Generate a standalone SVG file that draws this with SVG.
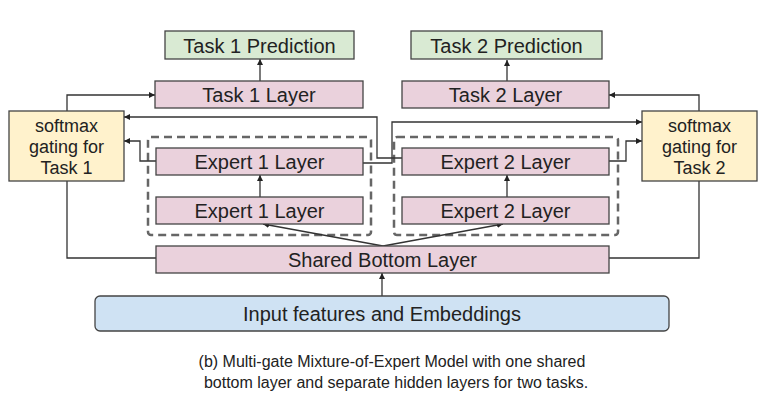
<svg xmlns="http://www.w3.org/2000/svg" width="776" height="416" viewBox="0 0 776 416">
<style>
.box{stroke:#444;stroke-width:1.3}
.pred{fill:#d9ead3}
.layer{fill:#ead1dc}
.gate{fill:#fff2cc}
.inp{fill:#cfe2f3}
.dash{fill:none;stroke:#666;stroke-width:2.5;stroke-dasharray:8 5}
.lbl{font-family:"Liberation Sans",Arial,sans-serif;font-size:20px;fill:#222;text-anchor:middle;dominant-baseline:central}
.glbl{font-family:"Liberation Sans",Arial,sans-serif;font-size:18px;fill:#222;text-anchor:middle}
.cap{font-family:"Liberation Sans",Arial,sans-serif;font-size:16px;fill:#222;text-anchor:middle}
.con{fill:none;stroke:#333;stroke-width:1.3}
</style>
<defs>
<marker id="ah" viewBox="0 0 10 10" refX="10" refY="5" markerWidth="6" markerHeight="6" markerUnits="userSpaceOnUse" orient="auto">
<path d="M0,0 L10,5 L0,10 z" fill="#222"/>
</marker>
</defs>
<rect width="776" height="416" fill="#fff"/>
<rect class="dash" x="148" y="137" width="223" height="98" rx="3"/>
<rect class="dash" x="394" y="137" width="224" height="98" rx="3"/>
<g id="connectors">
<path class="con" marker-end="url(#ah)" d="M260,81 L260,59"/>
<path class="con" marker-end="url(#ah)" d="M507,81 L507,60"/>
<path class="con" marker-end="url(#ah)" d="M67,111 L67,95 L155,95"/>
<path class="con" marker-end="url(#ah)" d="M699,111 L699,95 L609,95"/>
<path class="con" d="M67,181 L67,258 L156,258"/>
<path class="con" d="M699,181 L699,258 L609,258"/>
<path class="con" marker-end="url(#ah)" d="M260,197 L260,175"/>
<path class="con" marker-end="url(#ah)" d="M507,197 L507,175"/>
<path class="con" marker-end="url(#ah)" d="M383,246 L263,224"/>
<path class="con" marker-end="url(#ah)" d="M383,246 L503,224"/>
<path class="con" marker-end="url(#ah)" d="M382,296 L382,273"/>
<path class="con" marker-end="url(#ah)" d="M156,161 L140,161 L140,141 L124,141"/>
<path class="con" marker-end="url(#ah)" d="M609,161 L626,161 L626,141 L642,141"/>
<path class="con" marker-end="url(#ah)" d="M402,158 L377,158 L377,117 L124,117"/>
<path class="con" marker-end="url(#ah)" d="M363,163 L392,163 L392,122 L642,122"/>
</g>
<g id="task1_prediction"><rect class="box pred" x="165" y="31" width="189" height="28"/><text class="lbl" x="259.5" y="45.5">Task 1 Prediction</text></g>
<g id="task2_prediction"><rect class="box pred" x="411" y="31" width="191" height="28"/><text class="lbl" x="506.5" y="45.5">Task 2 Prediction</text></g>
<g id="task1_layer"><rect class="box layer" x="155" y="81" width="208" height="27"/><text class="lbl" x="259" y="95">Task 1 Layer</text></g>
<g id="task2_layer"><rect class="box layer" x="402" y="81" width="207" height="27"/><text class="lbl" x="505.5" y="95">Task 2 Layer</text></g>
<g id="gate1"><rect class="box gate" x="9" y="111" width="115" height="70"/><text class="glbl" x="66.5" y="132">softmax</text><text class="glbl" x="66.5" y="153">gating for</text><text class="glbl" x="66.5" y="174">Task 1</text></g>
<g id="gate2"><rect class="box gate" x="642" y="111" width="115" height="70"/><text class="glbl" x="699.5" y="132">softmax</text><text class="glbl" x="699.5" y="153">gating for</text><text class="glbl" x="699.5" y="174">Task 2</text></g>
<g id="expert1_top"><rect class="box layer" x="156" y="148" width="207" height="27"/><text class="lbl" x="259.5" y="162">Expert 1 Layer</text></g>
<g id="expert1_bottom"><rect class="box layer" x="156" y="197" width="207" height="27"/><text class="lbl" x="259.5" y="211">Expert 1 Layer</text></g>
<g id="expert2_top"><rect class="box layer" x="402" y="148" width="207" height="27"/><text class="lbl" x="505.5" y="162">Expert 2 Layer</text></g>
<g id="expert2_bottom"><rect class="box layer" x="402" y="197" width="207" height="27"/><text class="lbl" x="505.5" y="211">Expert 2 Layer</text></g>
<g id="shared_bottom"><rect class="box layer" x="156" y="246" width="453" height="27"/><text class="lbl" x="382.5" y="260">Shared Bottom Layer</text></g>
<g id="input"><rect class="box inp" x="95" y="296" width="574" height="35" rx="5"/><text class="lbl" x="382" y="314">Input features and Embeddings</text></g>
<g id="caption"><text class="cap" x="392" y="367">(b) Multi-gate Mixture-of-Expert Model with one shared</text><text class="cap" x="396" y="388">bottom layer and separate hidden layers for two tasks.</text></g>
</svg>
